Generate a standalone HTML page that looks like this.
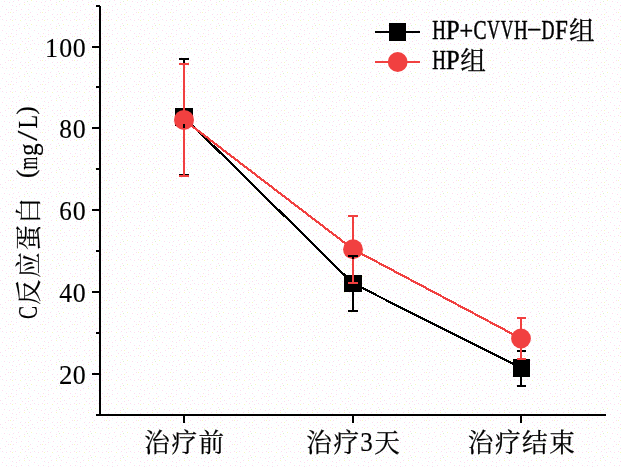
<!DOCTYPE html>
<html lang="zh-CN">
<head>
<meta charset="utf-8">
<title>C反应蛋白 (mg/L)</title>
<style>
html,body{margin:0;padding:0;background:#fff;}
body{width:621px;height:467px;overflow:hidden;}
svg{display:block;will-change:transform;}
text{font-size:27.20px;fill:#000;stroke:#000;stroke-width:0.5px;stroke-linejoin:round;}
.l{font-family:"Liberation Serif","Noto Serif CJK SC",serif;}
.d{stroke-width:0.15px;}
.yt text{stroke-width:0.2px;}
.yt .c{stroke-width:0.1px;}
.c{font-family:"Liberation Serif","Noto Serif CJK SC",serif;font-weight:400;font-size:25.60px;stroke-width:0.25px;}
</style>
</head>
<body>
<svg width="621" height="467" viewBox="0 0 621 467">
<rect x="0" y="0" width="621" height="467" fill="#ffffff"/>

<defs><pattern id="dz" width="32" height="24" patternUnits="userSpaceOnUse" shape-rendering="crispEdges"><path fill="#FBDCEF" d="M28 17h1v1h-1zM12 5h1v1h-1zM30 20h1v1h-1zM28 9h1v1h-1zM9 2h1v1h-1zM2 19h1v1h-1zM25 14h1v1h-1zM10 19h1v1h-1zM0 16h1v1h-1zM4 1h1v1h-1zM2 6h1v1h-1zM15 19h1v1h-1zM20 14h1v1h-1zM12 16h1v1h-1zM5 14h1v1h-1zM16 10h1v1h-1zM18 0h1v1h-1zM6 9h1v1h-1zM24 2h1v1h-1zM13 1h1v1h-1zM30 12h1v1h-1zM25 19h1v1h-1zM21 9h1v1h-1zM29 4h1v1h-1zM8 12h1v1h-1zM11 9h1v1h-1zM26 23h1v1h-1zM19 4h1v1h-1zM16 6h1v1h-1zM13 12h1v1h-1zM6 20h1v1h-1zM22 17h1v1h-1z"/><path fill="#F5F9BE" d="M10 12h1v1h-1zM24 4h1v1h-1zM28 14h1v1h-1zM12 20h1v1h-1zM20 20h1v1h-1zM31 0h1v1h-1z"/><path fill="#D8F2D0" d="M27 1h1v1h-1z"/><path fill="#F2FFFF" d="M11 17h1v1h-1zM21 21h1v1h-1zM8 15h1v1h-1zM5 7h1v1h-1zM13 9h1v1h-1zM17 18h1v1h-1zM31 6h1v1h-1zM26 17h1v1h-1zM0 19h1v1h-1zM24 0h1v1h-1zM2 16h1v1h-1zM5 22h1v1h-1zM29 13h1v1h-1zM25 8h1v1h-1zM15 15h1v1h-1zM21 13h1v1h-1zM30 16h1v1h-1zM20 3h1v1h-1zM12 13h1v1h-1zM1 8h1v1h-1zM8 22h1v1h-1zM1 1h1v1h-1zM14 0h1v1h-1zM18 10h1v1h-1zM22 7h1v1h-1zM31 3h1v1h-1zM16 22h1v1h-1zM12 22h1v1h-1zM24 20h1v1h-1zM8 7h1v1h-1zM13 6h1v1h-1zM6 4h1v1h-1zM15 4h1v1h-1zM21 16h1v1h-1zM12 2h1v1h-1zM6 18h1v1h-1zM3 4h1v1h-1zM13 19h1v1h-1zM8 10h1v1h-1zM0 11h1v1h-1zM4 12h1v1h-1zM16 8h1v1h-1zM28 20h1v1h-1zM18 15h1v1h-1zM7 1h1v1h-1zM26 11h1v1h-1zM17 2h1v1h-1zM16 12h1v1h-1zM19 6h1v1h-1zM23 11h1v1h-1zM19 23h1v1h-1zM25 5h1v1h-1zM28 7h1v1h-1zM29 23h1v1h-1zM24 15h1v1h-1zM28 3h1v1h-1zM29 10h1v1h-1zM3 20h1v1h-1zM10 5h1v1h-1zM10 0h1v1h-1z"/></pattern></defs>
<rect x="0" y="0" width="621" height="467" fill="url(#dz)"/>
<g shape-rendering="crispEdges" fill="none" stroke-width="2.2">
<polyline stroke="#000" points="184,117.0 353,283.4 521,368.0"/>
</g>
<g shape-rendering="crispEdges" fill="#000">
<rect x="175" y="108" width="18" height="18"/>
<rect x="344" y="274.6" width="18" height="17.8"/>
<rect x="513" y="359" width="17" height="18"/>
</g>
<g shape-rendering="crispEdges" fill="none" stroke-width="2.2">
<polyline stroke="#F14040" points="184,119.9 353,249.2 521,338.5"/>
</g>
<g fill="#F14040">
<circle cx="184" cy="119.9" r="10"/>
<circle cx="353" cy="249.3" r="9.95"/>
<circle cx="521" cy="338.5" r="9.9"/>
</g>
<g shape-rendering="crispEdges" fill="#000">
<rect x="179" y="58" width="10" height="2"/><rect x="183" y="58" width="2" height="52"/>
<rect x="183" y="124" width="2" height="51"/><rect x="179" y="174" width="10" height="2"/>
<rect x="348" y="255" width="10" height="2"/><rect x="352" y="255" width="2" height="21"/>
<rect x="352" y="290" width="2" height="21"/><rect x="348" y="310" width="10" height="2"/>
<rect x="517" y="350" width="9" height="2"/><rect x="520" y="350" width="2" height="10"/>
<rect x="520" y="376" width="2" height="10"/><rect x="517" y="385" width="9" height="2"/>
</g>
<g shape-rendering="crispEdges" fill="#F14040">
<rect x="179" y="63" width="10" height="2"/><rect x="183" y="63" width="2" height="49"/>
<rect x="183" y="127.7" width="2" height="48"/><rect x="179" y="175" width="10" height="2"/>
<rect x="348" y="215" width="10" height="2"/><rect x="352" y="215" width="2" height="27"/>
<rect x="352" y="258.5" width="2" height="25"/><rect x="348" y="282" width="10" height="2"/>
<rect x="517" y="317" width="9" height="2"/><rect x="520" y="317" width="2" height="14"/>
<rect x="520" y="347" width="2" height="12"/><rect x="517" y="358" width="9" height="2"/>
</g>
<g shape-rendering="crispEdges" fill="#000">
<rect x="99" y="5" width="1" height="411"/><rect x="100" y="6" width="1" height="410"/>
<rect x="96" y="414" width="510" height="2"/>
<rect x="92" y="46" width="7" height="2"/>
<rect x="92" y="127" width="7" height="2"/>
<rect x="92" y="209" width="7" height="2"/>
<rect x="92" y="291" width="7" height="2"/>
<rect x="92" y="373" width="7" height="2"/>
<rect x="96" y="5" width="3" height="2"/>
<rect x="96" y="86" width="3" height="2"/>
<rect x="96" y="168" width="3" height="2"/>
<rect x="96" y="249.5" width="3" height="2"/>
<rect x="96" y="332" width="3" height="2"/>
<rect x="183" y="416" width="2" height="7"/>
<rect x="352" y="416" width="2" height="7"/>
<rect x="520" y="416" width="2" height="7"/>
</g>
<text class="l" aria-label="100"><tspan class="d" x="45.12" y="57.00" textLength="13.05" lengthAdjust="spacingAndGlyphs">1</tspan><tspan class="d" x="59.13" y="57.00" textLength="12.94" lengthAdjust="spacingAndGlyphs">0</tspan><tspan class="d" x="72.73" y="57.00" textLength="12.94" lengthAdjust="spacingAndGlyphs">0</tspan></text>
<text class="l" aria-label="80"><tspan class="d" x="59.25" y="138.00" textLength="12.71" lengthAdjust="spacingAndGlyphs">8</tspan><tspan class="d" x="72.73" y="138.00" textLength="12.94" lengthAdjust="spacingAndGlyphs">0</tspan></text>
<text class="l" aria-label="60"><tspan class="d" x="59.13" y="220.00" textLength="12.56" lengthAdjust="spacingAndGlyphs">6</tspan><tspan class="d" x="72.73" y="220.00" textLength="12.94" lengthAdjust="spacingAndGlyphs">0</tspan></text>
<text class="l" aria-label="40"><tspan class="d" x="59.15" y="302.00" textLength="12.83" lengthAdjust="spacingAndGlyphs">4</tspan><tspan class="d" x="72.73" y="302.00" textLength="12.94" lengthAdjust="spacingAndGlyphs">0</tspan></text>
<text class="l" aria-label="20"><tspan class="d" x="59.06" y="384.00" textLength="13.42" lengthAdjust="spacingAndGlyphs">2</tspan><tspan class="d" x="72.73" y="384.00" textLength="12.94" lengthAdjust="spacingAndGlyphs">0</tspan></text>
<text class="l" aria-label="治疗前"><tspan class="c" x="144.20 171.40 198.60" y="451.50">治疗前</tspan></text>
<text class="l" aria-label="治疗3天"><tspan class="c" x="306.20 333.40" y="451.50">治疗</tspan><tspan class="d" x="360.21" y="450.60" textLength="12.53" lengthAdjust="spacingAndGlyphs">3</tspan><tspan class="c" x="374.20" y="451.50">天</tspan></text>
<text class="l" aria-label="治疗结束"><tspan class="c" x="467.70 494.90 522.10 549.30" y="451.50">治疗结束</tspan></text>
<g shape-rendering="crispEdges">
<rect x="375" y="31" width="45" height="2" fill="#000"/>
<rect x="389" y="23" width="17" height="18" fill="#000"/>
<rect x="375" y="61" width="45" height="2" fill="#F14040"/>
</g>
<circle cx="397.7" cy="62" r="9.9" fill="#F14040"/>
<text class="l" aria-label="HP+CVVH-DF组"><tspan x="432.28" y="39.40" textLength="13.63" lengthAdjust="spacingAndGlyphs">H</tspan><tspan x="446.03" y="39.40" textLength="13.62" lengthAdjust="spacingAndGlyphs">P</tspan><tspan x="459.45" y="39.80" textLength="13.68" lengthAdjust="spacingAndGlyphs">+</tspan><tspan x="473.52" y="39.40" textLength="13.05" lengthAdjust="spacingAndGlyphs">C</tspan><tspan x="487.23" y="39.40" textLength="12.54" lengthAdjust="spacingAndGlyphs">V</tspan><tspan x="500.83" y="39.40" textLength="12.54" lengthAdjust="spacingAndGlyphs">V</tspan><tspan x="513.88" y="39.40" textLength="13.63" lengthAdjust="spacingAndGlyphs">H</tspan><tspan x="527.08" y="33.60" font-size="16.32" textLength="14.46" lengthAdjust="spacingAndGlyphs">-</tspan><tspan x="541.50" y="39.40" textLength="13.01" lengthAdjust="spacingAndGlyphs">D</tspan><tspan x="555.28" y="39.40" textLength="12.58" lengthAdjust="spacingAndGlyphs">F</tspan><tspan class="c" x="569.10" y="40.30">组</tspan></text>
<text class="l" aria-label="HP组"><tspan x="432.28" y="69.40" textLength="13.63" lengthAdjust="spacingAndGlyphs">H</tspan><tspan x="446.03" y="69.40" textLength="13.62" lengthAdjust="spacingAndGlyphs">P</tspan><tspan class="c" x="460.30" y="70.30">组</tspan></text>
<g class="yt" transform="translate(36.6 319.4) rotate(-90)">
<text class="l" aria-label="C反应蛋白 (mg/L)"><tspan x="0.42" y="0.00" textLength="13.05" lengthAdjust="spacingAndGlyphs">C</tspan><tspan class="c" x="14.40 41.60 68.80 96.00" y="0.90">反应蛋白</tspan> <tspan x="141.45" y="-3.10" font-size="24.94" textLength="8.20" lengthAdjust="spacingAndGlyphs">(</tspan><tspan x="149.97" y="0.00" textLength="12.78" lengthAdjust="spacingAndGlyphs">m</tspan><tspan x="163.32" y="0.00" textLength="12.73" lengthAdjust="spacingAndGlyphs">g</tspan><tspan x="178.30" y="0.80" font-size="29.38" textLength="10.52" lengthAdjust="spacingAndGlyphs">/</tspan><tspan x="190.79" y="0.00" textLength="13.50" lengthAdjust="spacingAndGlyphs">L</tspan><tspan x="204.96" y="-3.10" font-size="24.94" textLength="8.20" lengthAdjust="spacingAndGlyphs">)</tspan></text>
</g>
</svg>
</body>
</html>
